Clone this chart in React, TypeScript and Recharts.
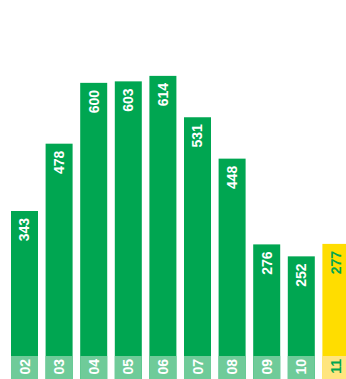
import React from 'react';
import { BarChart, Bar, XAxis, YAxis } from 'recharts';

const categories = ['02', '03', '04', '05', '06', '07', '08', '09', '10', '11'];
const values = [343, 478, 600, 603, 614, 531, 448, 276, 252, 277];

const GREEN = '#00a651';
const GREEN_LIGHT = '#6fcb99';
const YELLOW = '#ffdd00';
const YELLOW_LIGHT = '#ffe57f';
const STRIP = 26;

const data = categories.map((c, i) => ({ name: c, value: values[i] }));

const BarShape = (props: any) => {
    const { x, y, width, height, index, payload } = props;
    const last = index === categories.length - 1;
    const base = y + height;
    const cx = x + width / 2;
    const textColor = last ? GREEN : '#ffffff';
    return (
        <g>
            <rect x={x} y={y} width={width} height={height} fill={last ? YELLOW : GREEN} />
            <rect x={x} y={base - STRIP} width={width} height={STRIP} fill={last ? YELLOW_LIGHT : GREEN_LIGHT} />
            <text
                x={cx}
                y={y + 7}
                transform={`rotate(-90, ${cx}, ${y + 7})`}
                textAnchor="end"
                dominantBaseline="central"
                fill={textColor}
                fontSize={14}
                fontWeight="bold"
            >
                {payload.value}
            </text>
            <text
                x={cx}
                y={base - STRIP + 3}
                transform={`rotate(-90, ${cx}, ${base - STRIP + 3})`}
                textAnchor="end"
                dominantBaseline="central"
                fill={textColor}
                fontSize={14}
                fontWeight="bold"
            >
                {payload.name}
            </text>
        </g>
    );
};

export default function App() {
    return (
        <div style={{ position: 'absolute', left: 0, top: 0, width: 346, height: 379, overflow: 'hidden', background: '#fff', fontFamily: '"Liberation Sans", Arial, sans-serif' }}>
            <BarChart width={353} height={382} data={data} margin={{ top: 33, right: 0, bottom: 0, left: 7 }}>
                <XAxis dataKey="name" hide />
                <YAxis domain={[0, 700]} hide />
                <Bar dataKey="value" barSize={27} shape={BarShape} isAnimationActive={false} />
            </BarChart>
        </div>
    );
}
